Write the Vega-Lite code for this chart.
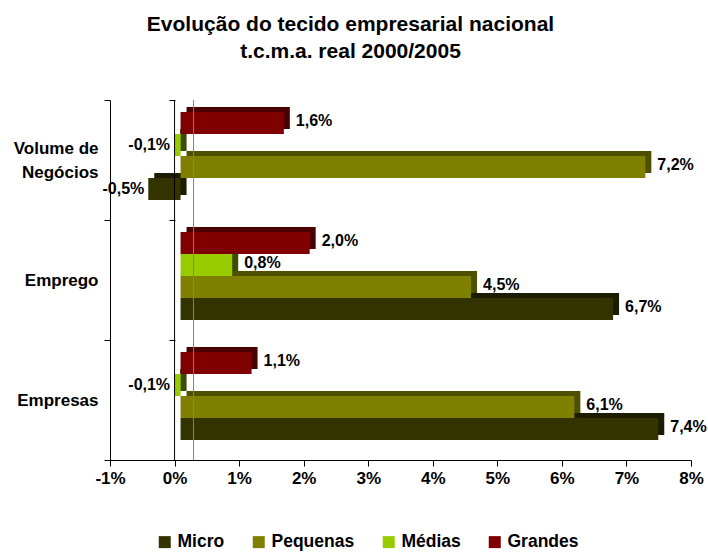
{
  "$schema": "https://vega.github.io/schema/vega-lite/v6.json",
  "width": 581,
  "height": 360,
  "autosize": {"type": "none"},
  "padding": {"left": 110, "top": 100, "right": 17, "bottom": 92},
  "background": "white",
  "config": {
    "font": "Liberation Sans",
    "locale": {"number": {"decimal": ",", "thousands": ".", "grouping": [3], "currency": ["", " €"], "minus": "-"}},
    "view": {"stroke": null},
    "axis": {"labelFont": "Liberation Sans", "labelFontWeight": "bold", "labelColor": "black", "domainColor": "black", "tickColor": "black", "grid": false, "title": null},
    "axisY": {"tickBand": "extent", "tickSize": 6, "labelAlign": "right", "labelBaseline": "middle", "labelPadding": 6, "labelFontSize": 17, "labelLineHeight": 24},
    "axisX": {"tickSize": 6, "labelPadding": 4, "labelFontSize": 17, "labelFlush": false, "labelOverlap": false}
  },
  "title": {
    "text": ["Evolução do tecido empresarial nacional", "t.c.m.a. real 2000/2005"],
    "font": "Liberation Sans",
    "fontSize": 21,
    "fontWeight": "bold",
    "color": "black",
    "anchor": "middle",
    "frame": "group",
    "dx": -50,
    "offset": 29,
    "lineHeight": 27
  },
  "data": {
    "values": [
      {"cat": "Volume de Negócios", "series": "Micro", "value": -0.005},
      {"cat": "Volume de Negócios", "series": "Pequenas", "value": 0.072},
      {"cat": "Volume de Negócios", "series": "Médias", "value": -0.001},
      {"cat": "Volume de Negócios", "series": "Grandes", "value": 0.016},
      {"cat": "Emprego", "series": "Micro", "value": 0.067},
      {"cat": "Emprego", "series": "Pequenas", "value": 0.045},
      {"cat": "Emprego", "series": "Médias", "value": 0.008},
      {"cat": "Emprego", "series": "Grandes", "value": 0.020},
      {"cat": "Empresas", "series": "Micro", "value": 0.074},
      {"cat": "Empresas", "series": "Pequenas", "value": 0.061},
      {"cat": "Empresas", "series": "Médias", "value": -0.001},
      {"cat": "Empresas", "series": "Grandes", "value": 0.011}
    ]
  },
  "layer": [
    {
      "mark": {"type": "bar", "xOffset": 12, "x2Offset": 12},
      "encoding": {
        "y": {"field": "cat", "type": "nominal", "sort": ["Volume de Negócios", "Emprego", "Empresas"], "scale": {"paddingInner": 0, "paddingOuter": 0},
              "axis": {"orient": "left", "labelExpr": "datum.value == 'Volume de Negócios' ? ['Volume de', 'Negócios'] : datum.value",
                       "labelOffset": {"condition": {"test": "datum.value == 'Volume de Negócios'", "value": -12}, "value": 0}}},
        "yOffset": {"field": "series", "sort": ["Grandes", "Médias", "Pequenas", "Micro"], "scale": {"domain": ["Grandes", "Médias", "Pequenas", "Micro"], "range": [7, 95], "paddingInner": 0, "paddingOuter": 0}},
        "x": {"field": "value", "type": "quantitative", "scale": {"domain": [-0.01, 0.08], "nice": false, "zero": false},
              "axis": {"values": [-0.01, 0, 0.01, 0.02, 0.03, 0.04, 0.05, 0.06, 0.07, 0.08], "format": ".0%"}},
        "color": {"field": "series", "type": "nominal", "scale": {"domain": ["Micro", "Pequenas", "Médias", "Grandes"], "range": ["#1c1c00", "#4f4f00", "#3a4d00", "#4a0000"]}, "legend": null}
      }
    },
    {
      "mark": {"type": "bar", "xOffset": 6, "x2Offset": 6},
      "encoding": {
        "y": {"field": "cat", "type": "nominal", "sort": ["Volume de Negócios", "Emprego", "Empresas"], "axis": null},
        "yOffset": {"field": "series", "sort": ["Grandes", "Médias", "Pequenas", "Micro"], "scale": {"domain": ["Grandes", "Médias", "Pequenas", "Micro"], "range": [12, 100], "paddingInner": 0, "paddingOuter": 0}},
        "x": {"field": "value", "type": "quantitative"},
        "color": {
          "field": "series", "type": "nominal",
          "scale": {"domain": ["Micro", "Pequenas", "Médias", "Grandes"], "range": ["#333300", "#808000", "#99cc00", "#800000"]},
          "legend": {"orient": "none", "legendX": 46, "legendY": 433, "direction": "horizontal", "title": null, "symbolType": "square", "symbolSize": 144, "symbolStrokeWidth": 0, "labelFont": "Liberation Sans", "labelFontSize": 17.5, "labelFontWeight": "bold", "labelColor": "black", "columnPadding": 25, "labelOffset": 4}
        }
      }
    },
    {
      "data": {"values": [{"z": 0}]},
      "mark": {"type": "rule", "color": "black", "strokeWidth": 1},
      "encoding": {"x": {"field": "z", "type": "quantitative"}}
    },
    {
      "data": {"values": [{"z": 0}]},
      "mark": {"type": "rule", "color": "#808080", "strokeWidth": 1, "xOffset": 19},
      "encoding": {"x": {"field": "z", "type": "quantitative"}}
    },
    {
      "transform": [{"filter": "datum.value >= 0"}],
      "mark": {"type": "text", "align": "left", "baseline": "middle", "dx": 18, "dy": -2, "font": "Liberation Sans", "fontSize": 16, "fontWeight": "bold", "color": "black"},
      "encoding": {
        "y": {"field": "cat", "type": "nominal", "sort": ["Volume de Negócios", "Emprego", "Empresas"], "axis": null},
        "yOffset": {"field": "series", "sort": ["Grandes", "Médias", "Pequenas", "Micro"], "scale": {"domain": ["Grandes", "Médias", "Pequenas", "Micro"], "range": [23, 89], "padding": 0}},
        "x": {"field": "value", "type": "quantitative"},
        "text": {"field": "value", "type": "quantitative", "format": ".1%"}
      }
    },
    {
      "transform": [{"filter": "datum.value < 0"}],
      "mark": {"type": "text", "align": "right", "baseline": "middle", "dx": 2, "dy": 0, "font": "Liberation Sans", "fontSize": 16, "fontWeight": "bold", "color": "black"},
      "encoding": {
        "y": {"field": "cat", "type": "nominal", "sort": ["Volume de Negócios", "Emprego", "Empresas"],
              "axis": {"orient": "left", "offset": -65, "labels": false, "domain": false, "ticks": true, "tickBand": "extent"}},
        "yOffset": {"field": "series", "sort": ["Grandes", "Médias", "Pequenas", "Micro"], "scale": {"domain": ["Grandes", "Médias", "Pequenas", "Micro"], "range": [23, 89], "padding": 0}},
        "x": {"field": "value", "type": "quantitative"},
        "text": {"field": "value", "type": "quantitative", "format": ".1%"}
      }
    }
  ],
  "resolve": {"scale": {"color": "independent", "yOffset": "independent"}, "axis": {"y": "independent"}}
}
